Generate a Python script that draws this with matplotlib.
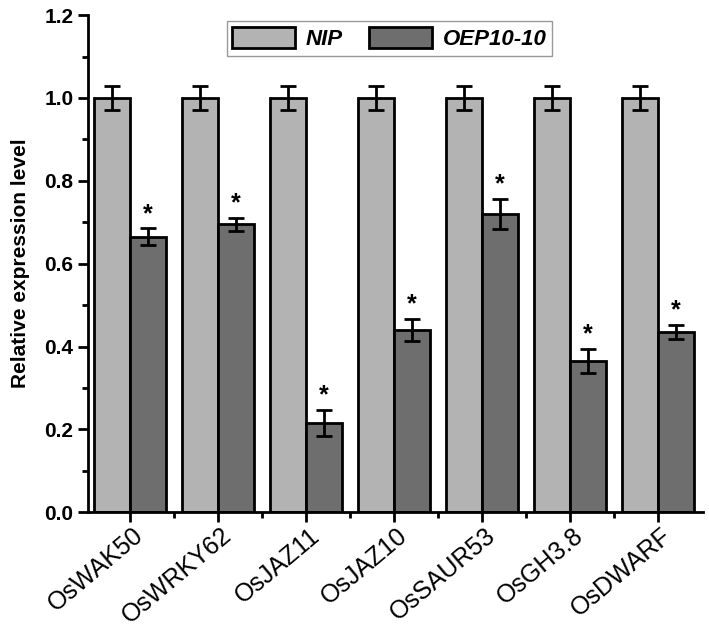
import numpy as np
import matplotlib
matplotlib.use('Agg')
import matplotlib.pyplot as plt
from matplotlib.ticker import MultipleLocator, FixedLocator

plt.rcParams['font.family'] = ['Liberation Sans', 'DejaVu Sans']

# Datos
genes = ['OsWAK50', 'OsWRKY62', 'OsJAZ11', 'OsJAZ10', 'OsSAUR53', 'OsGH3.8', 'OsDWARF']
nip = [1.0, 1.0, 1.0, 1.0, 1.0, 1.0, 1.0]
nip_err = [0.03, 0.03, 0.03, 0.03, 0.03, 0.03, 0.03]
oep = [0.665, 0.695, 0.215, 0.44, 0.72, 0.365, 0.435]
oep_err = [0.02, 0.016, 0.032, 0.027, 0.036, 0.03, 0.018]

x = np.arange(len(genes))
ancho = 0.41

fig = plt.figure(figsize=(7.09, 6.3), dpi=100)
ax = fig.add_axes([0.124, 0.187, 0.868, 0.789])

err_kw = dict(elinewidth=2, capsize=6, capthick=2, ecolor='black')
ax.bar(x - ancho / 2, nip, ancho, yerr=nip_err, color='#b3b3b3', edgecolor='black',
       linewidth=2, label='NIP', error_kw=err_kw)
ax.bar(x + ancho / 2, oep, ancho, yerr=oep_err, color='#6e6e6e', edgecolor='black',
       linewidth=2, label='OEP10-10', error_kw=err_kw)

# Asteriscos de significancia
for xi, v, e in zip(x, oep, oep_err):
    ax.text(xi + ancho / 2, v + e + 0.006, '*', ha='center', va='bottom',
            fontsize=18, fontweight='bold')

ax.set_xlim(-0.48, 6.52)
ax.set_ylim(0, 1.2)
ax.yaxis.set_major_locator(MultipleLocator(0.2))
ax.yaxis.set_minor_locator(MultipleLocator(0.1))
ax.xaxis.set_major_locator(FixedLocator(x))
ax.xaxis.set_minor_locator(FixedLocator(x[:-1] + 0.5))
ax.set_xticklabels([])

# Etiquetas de genes, giradas y un poco a la derecha de cada marca
for xi, g in zip(x, genes):
    ax.annotate(g, xy=(xi, 0), xycoords=('data', 'axes fraction'), xytext=(2, -8),
                textcoords='offset points', rotation=40, ha='right', va='top',
                rotation_mode='anchor', fontsize=18, annotation_clip=False)

for lab in ax.get_yticklabels():
    lab.set_fontweight('bold')
ax.tick_params(axis='y', labelsize=15)
ax.tick_params(which='major', length=7, width=2, direction='out')
ax.tick_params(which='minor', length=4, width=2, direction='out')

ax.spines['top'].set_visible(False)
ax.spines['right'].set_visible(False)
ax.spines['left'].set_linewidth(2)
ax.spines['bottom'].set_linewidth(2)

ax.set_ylabel('Relative expression level', fontsize=15, fontweight='bold', labelpad=10)

leg = ax.legend(loc='upper center', bbox_to_anchor=(0.49, 1.01), ncol=2, frameon=True,
                fancybox=False, edgecolor='#808080', handlelength=2.8, handleheight=1.1,
                handletextpad=0.5, columnspacing=1.2, borderpad=0.25,
                prop={'style': 'italic', 'weight': 'bold', 'size': 16})
leg.get_frame().set_linewidth(1)

fig.savefig('out.png', dpi=100)
